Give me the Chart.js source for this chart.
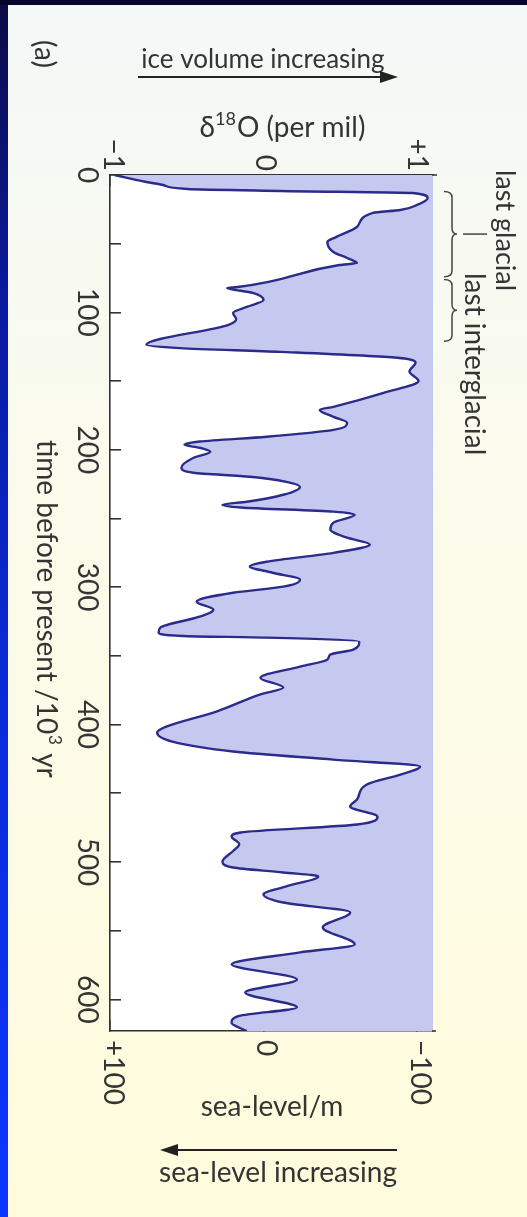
<!DOCTYPE html>
<html>
<head>
<meta charset="utf-8">
<script src="https://cdn.jsdelivr.net/npm/chart.js@4.4.1/dist/chart.umd.min.js"></script>
<style>
  html, body { margin: 0; padding: 0; background: #06063a; overflow: hidden; }
  canvas { display: block; }
</style>
</head>
<body>
<canvas id="c" width="527" height="1217"></canvas>
<script>
// Benthic oxygen-isotope record: age (10^3 yr before present) and δ18O (per mil)
const ageKyr = [
  0, 5.1, 7.3, 10.2, 11.6, 13.1, 16.7, 21.8, 25.5, 27.6, 37.8, 45, 48.7, 56, 60.4, 64, 65.5,
  81.5, 82.2, 85.8, 91, 96, 100.4, 105, 109, 123.6, 126, 128.7, 133, 136.7, 143, 150,
  158.5, 168.7, 171, 176, 180.4, 185.5, 190.5, 194, 196.4, 198.5, 201.5, 205.8, 213, 216.7,
  219.6, 223.3, 227, 232.7, 237.8, 240, 242, 245, 247.3, 253, 258, 264, 269, 275, 281.5,
  285, 289.5, 294.5, 299.6, 304, 310.5, 316.4, 321.5, 329.5, 333, 335.5, 336.7, 339.6,
  345.5, 349, 352.7, 357.8, 366, 373, 378, 390.5, 401.5, 405.8, 412.4, 419.6, 425.5, 430.5,
  436.4, 443.6, 454.5, 459.6, 467, 472.7, 478.5, 481.5, 487, 492, 499.6, 504, 507.6, 510.5,
  517.8, 523.6, 529.5, 536.7, 547.6, 560, 565.8, 574.5, 585.5, 595, 605.8, 612, 617, 623
];
const delta18O = [
  -0.97, -0.76, -0.65, -0.49, 0.12, 0.99, 1.09, 1.02, 0.91, 0.73, 0.625, 0.49, 0.43, 0.47, 0.56, 0.625, 0.51,
  -0.16, -0.23, -0.06, 0.01, -0.10, -0.19, -0.17, -0.22, -0.76, -0.54, 0.12, 0.89, 1.01, 0.97, 1.03,
  0.80, 0.47, 0.38, 0.47, 0.56, 0.47, 0.03, -0.41, -0.51, -0.41, -0.34, -0.45, -0.53, -0.45,
  -0.08, 0.16, 0.25, 0.14, -0.10, -0.26, -0.14, 0.47, 0.61, 0.47, 0.45, 0.56, 0.71, 0.47, 0.03,
  -0.08, 0.07, 0.25, 0.14, -0.19, -0.43, -0.32, -0.41, -0.67, -0.68, -0.52, 0.03, 0.64,
  0.60, 0.45, 0.43, 0.25, -0.01, 0.14, -0.01, -0.30, -0.63, -0.69, -0.59, -0.19, 0.47, 1.04,
  0.91, 0.69, 0.625, 0.58, 0.76, 0.625, -0.14, -0.20, -0.15, -0.19, -0.26, -0.19, 0.14, 0.37,
  0.16, 0.01, 0.14, 0.58, 0.40, 0.61, 0.25, -0.20, 0.23, -0.11, 0.23, -0.15, -0.20, -0.10
];

// Axis ticks and their labels
const ageTicks = [0, 50, 100, 150, 200, 250, 300, 350, 400, 450, 500, 550, 600];
const ageTickLabels = ['0', '100', '200', '300', '400', '500', '600'];
const deltaTicks = [-1, 0, 1];
const deltaTickLabels = ['\u22121', '0', '+1'];
const seaLevelTicks = [100, 0, -100];
const seaLevelTickLabels = ['+100', '0', '\u2212100'];

// Climate stages marked beside the curve
const periodLabels = ['last glacial', 'last interglacial'];
const periodStart = [12, 76];
const periodEnd = [74, 121];

// Axis ranges
const AGE_MAX = 623;
const DELTA_MIN = -1, DELTA_MAX = 1.125;
const SEA_MIN = -110.5, SEA_MAX = 100;

const FONT = 'Lato, "Open Sans", sans-serif';
const INK = '#343434';
const W = 527, H = 1217;

function rotText(ctx, text, x, y, size, align, baseline) {
  ctx.save();
  ctx.translate(x, y);
  ctx.rotate(Math.PI / 2);
  ctx.font = size + 'px ' + FONT;
  ctx.textAlign = align;
  ctx.textBaseline = baseline;
  ctx.fillText(text, 0, 0);
  ctx.restore();
}

function arrow(ctx, x1, x2, y) {
  const dir = Math.sign(x2 - x1);
  ctx.save();
  ctx.strokeStyle = '#222';
  ctx.fillStyle = '#222';
  ctx.lineWidth = 2;
  ctx.beginPath();
  ctx.moveTo(x1, y);
  ctx.lineTo(x2 - dir * 14, y);
  ctx.stroke();
  ctx.beginPath();
  ctx.moveTo(x2, y);
  ctx.lineTo(x2 - dir * 18, y - 6);
  ctx.lineTo(x2 - dir * 18, y + 6);
  ctx.closePath();
  ctx.fill();
  ctx.restore();
}

function brace(ctx, yTop, yBot) {
  const xEnd = 444, xBody = 452, xTip = 457, r = 6;
  const yMid = (yTop + yBot) / 2;
  ctx.beginPath();
  ctx.moveTo(xEnd, yTop);
  ctx.quadraticCurveTo(xBody, yTop, xBody, yTop + r);
  ctx.lineTo(xBody, yMid - r);
  ctx.quadraticCurveTo(xBody, yMid, xTip, yMid);
  ctx.quadraticCurveTo(xBody, yMid, xBody, yMid + r);
  ctx.lineTo(xBody, yBot - r);
  ctx.quadraticCurveTo(xBody, yBot, xEnd, yBot);
  ctx.stroke();
}

const backdrop = {
  id: 'backdrop',
  beforeDraw(chart) {
    const ctx = chart.ctx, a = chart.chartArea;
    ctx.save();
    ctx.fillStyle = '#05052e';
    ctx.fillRect(0, 0, W, H);
    const side = ctx.createLinearGradient(0, 0, 0, H);
    side.addColorStop(0, '#0b0b45');
    side.addColorStop(0.25, '#0a1aa0');
    side.addColorStop(0.55, '#0a2ad4');
    side.addColorStop(1, '#0c36ff');
    ctx.fillStyle = side;
    ctx.fillRect(0, 5, 8, H - 5);
    const paper = ctx.createLinearGradient(0, 5, 0, H);
    paper.addColorStop(0, '#f4f8f7');
    paper.addColorStop(0.4, '#fbfbec');
    paper.addColorStop(1, '#fffbdc');
    ctx.fillStyle = paper;
    ctx.fillRect(8, 5, W - 8, H - 5);
    ctx.fillStyle = '#ffffff';
    ctx.fillRect(a.left, a.top, a.right - a.left, a.bottom - a.top);
    ctx.restore();
  },
  afterDraw(chart) {
    const ctx = chart.ctx, a = chart.chartArea;
    const sx = chart.scales.x, sl = chart.scales.sl, sy = chart.scales.y;
    ctx.save();

    // top and bottom axis lines run a little past the shaded panel
    ctx.strokeStyle = '#333';
    ctx.lineWidth = 1.6;
    ctx.beginPath();
    ctx.moveTo(a.right - 1, a.top);
    ctx.lineTo(a.right + 4, a.top);
    ctx.moveTo(a.right - 1, a.bottom);
    ctx.lineTo(a.right + 3, a.bottom);
    ctx.stroke();

    ctx.fillStyle = INK;

    // tick labels, set sideways like the rest of the figure
    ageTickLabels.forEach(l => rotText(ctx, l, 87, sy.getPixelForValue(Number(l)), 28, 'center', 'middle'));
    deltaTicks.forEach((v, i) => rotText(ctx, deltaTickLabels[i], sx.getPixelForValue(v) + 3, 171, 28, 'right', 'middle'));
    seaLevelTicks.forEach((v, i) => rotText(ctx, seaLevelTickLabels[i], sl.getPixelForValue(v) + 3, 1040, 28, 'left', 'middle'));

    // panel tag
    rotText(ctx, '(a)', 44, 54, 28, 'center', 'middle');

    // top titles
    ctx.font = '26px ' + FONT;
    ctx.textAlign = 'center';
    ctx.textBaseline = 'alphabetic';
    ctx.fillText('ice volume increasing', 263, 68);
    arrow(ctx, 138, 398, 77);

    ctx.textAlign = 'left';
    ctx.font = '28px ' + FONT;
    const wD = ctx.measureText('\u03b4').width;
    const wR = ctx.measureText('O (per mil)').width;
    ctx.font = '18px ' + FONT;
    const wS = ctx.measureText('18').width;
    const x0 = 282 - (wD + wS + wR) / 2;
    ctx.font = '28px ' + FONT;
    ctx.fillText('\u03b4', x0, 137);
    ctx.font = '18px ' + FONT;
    ctx.fillText('18', x0 + wD, 125);
    ctx.font = '28px ' + FONT;
    ctx.fillText('O (per mil)', x0 + wD + wS + 1, 137);

    // bottom titles
    ctx.textAlign = 'center';
    ctx.font = '28px ' + FONT;
    ctx.fillText('sea-level/m', 272, 1116);
    arrow(ctx, 397, 160, 1150);
    ctx.fillText('sea-level increasing', 278, 1182);

    // time axis title
    ctx.save();
    ctx.translate(37, 440);
    ctx.rotate(Math.PI / 2);
    ctx.textAlign = 'left';
    ctx.textBaseline = 'alphabetic';
    ctx.font = '28px ' + FONT;
    const p1 = 'time before present /10';
    const w1 = ctx.measureText(p1).width;
    ctx.fillText(p1, 0, 0);
    ctx.font = '17px ' + FONT;
    ctx.fillText('3', w1 + 1, -12);
    const w3 = ctx.measureText('3').width;
    ctx.font = '28px ' + FONT;
    ctx.fillText(' yr', w1 + w3 + 2, 0);
    ctx.restore();

    // stage brackets and names
    ctx.strokeStyle = '#444';
    ctx.lineWidth = 1.5;
    periodLabels.forEach((name, i) => {
      brace(ctx, sy.getPixelForValue(periodStart[i]), sy.getPixelForValue(periodEnd[i]));
    });
    const gMid = (sy.getPixelForValue(periodStart[0]) + sy.getPixelForValue(periodEnd[0])) / 2;
    ctx.beginPath();
    ctx.moveTo(463, gMid);
    ctx.lineTo(487, gMid);
    ctx.stroke();
    rotText(ctx, periodLabels[0], 496, 170, 27, 'left', 'alphabetic');
    rotText(ctx, periodLabels[1], 465, 273, 28, 'left', 'alphabetic');
    ctx.restore();
  }
};

const axisLine = { display: true, color: '#333', width: 1.6 };
const tickMarks = { display: true, drawOnChartArea: false, drawTicks: true, tickLength: -11, color: '#333', lineWidth: 1.6 };

new Chart(document.getElementById('c'), {
  type: 'line',
  data: {
    datasets: [{
      data: ageKyr.map((t, i) => ({ x: delta18O[i], y: t })),
      xAxisID: 'x',
      yAxisID: 'y',
      borderColor: '#2a2b8a',
      borderWidth: 2.4,
      backgroundColor: '#c6c9ef',
      fill: { value: DELTA_MAX },
      pointRadius: 0,
      cubicInterpolationMode: 'monotone'
    }]
  },
  options: {
    indexAxis: 'y',
    responsive: false,
    animation: false,
    events: [],
    layout: { padding: { left: 0, right: 94, top: 0, bottom: 0 } },
    scales: {
      x: {
        type: 'linear', position: 'top', min: DELTA_MIN, max: DELTA_MAX,
        border: axisLine, grid: tickMarks, ticks: { display: false },
        afterBuildTicks: s => { s.ticks = deltaTicks.map(v => ({ value: v })); },
        afterFit: s => { s.height = 175; }
      },
      sl: {
        type: 'linear', axis: 'x', position: 'bottom', min: SEA_MIN, max: SEA_MAX, reverse: true,
        border: axisLine, grid: tickMarks, ticks: { display: false },
        afterBuildTicks: s => { s.ticks = seaLevelTicks.map(v => ({ value: v })); },
        afterFit: s => { s.height = H - 1031; }
      },
      y: {
        type: 'linear', position: 'left', min: 0, max: AGE_MAX, reverse: true,
        border: axisLine, grid: tickMarks, ticks: { display: false },
        afterBuildTicks: s => { s.ticks = ageTicks.map(v => ({ value: v })); },
        afterFit: s => { s.width = 110; }
      }
    },
    plugins: { legend: { display: false }, tooltip: { enabled: false } }
  },
  plugins: [backdrop]
});
</script>
</body>
</html>
